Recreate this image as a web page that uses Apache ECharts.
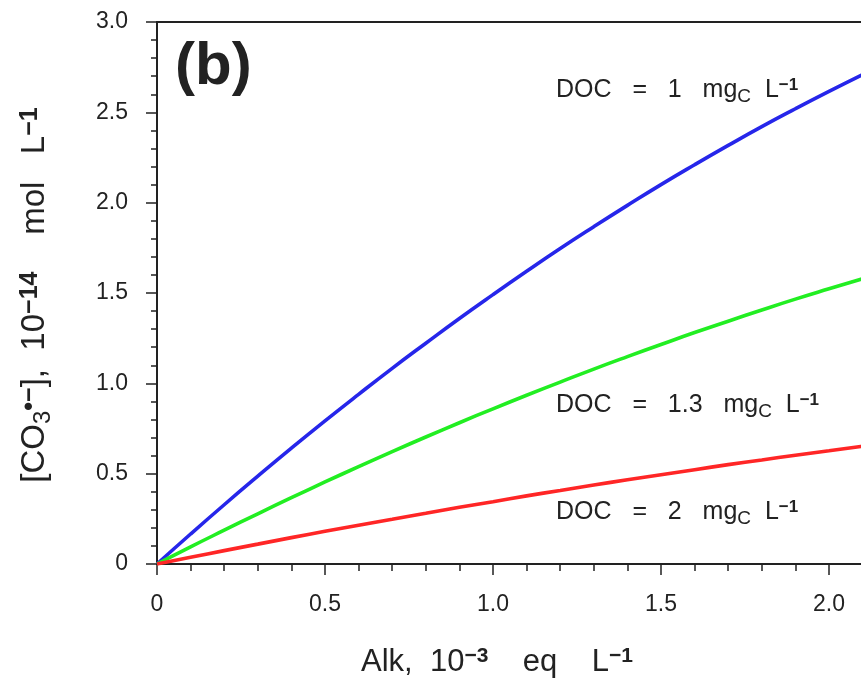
<!DOCTYPE html>
<html><head><meta charset="utf-8">
<script src="https://cdn.jsdelivr.net/npm/echarts@6/dist/echarts.min.js"></script>
<style>html,body{margin:0;padding:0;background:#fff;overflow:hidden;width:861px;height:679px}#c{width:1000px;height:679px}</style>
</head><body><div id="c"></div>
<script>
// Alkalinity, 10^-3 eq L^-1
const alk   = [0, 0.1, 0.2, 0.3, 0.4, 0.5, 0.6, 0.7, 0.8, 0.9, 1.0, 1.1, 1.2, 1.3, 1.4, 1.5, 1.6, 1.7, 1.8, 1.9, 2.0, 2.1];
// [CO3•−], 10^-14 mol L^-1
const doc1  = [0, 0.166, 0.328, 0.486, 0.641, 0.792, 0.939, 1.083, 1.222, 1.359, 1.491, 1.620, 1.746, 1.867, 1.985, 2.100, 2.210, 2.317, 2.421, 2.520, 2.616, 2.709];
const doc13 = [0, 0.095, 0.187, 0.278, 0.367, 0.454, 0.539, 0.622, 0.703, 0.782, 0.859, 0.934, 1.007, 1.079, 1.148, 1.215, 1.281, 1.344, 1.406, 1.466, 1.523, 1.579];
const doc2  = [0, 0.037, 0.074, 0.110, 0.146, 0.181, 0.215, 0.248, 0.281, 0.314, 0.345, 0.377, 0.407, 0.437, 0.466, 0.494, 0.522, 0.550, 0.576, 0.602, 0.627, 0.652];
const xTickLabels = ['0', '0.5', '1.0', '1.5', '2.0'];
const yTickLabels = ['0', '0.5', '1.0', '1.5', '2.0', '2.5', '3.0'];
const seriesNames = ['DOC = 1', 'DOC = 1.3', 'DOC = 2'];
const seriesColors = ['#2626ea', '#22ee22', '#ff2626'];

const FONT = 'Liberation Sans, Arial, sans-serif';
const INK = '#222';
const pairs = ys => alk.map((x, i) => [x, ys[i]]);
const xFmt = v => { const i = Math.round(v / 0.5); return (Math.abs(v - i * 0.5) < 1e-9 && xTickLabels[i] !== undefined) ? xTickLabels[i] : ''; };
const yFmt = v => { const i = Math.round(v / 0.5); return yTickLabels[i] !== undefined ? yTickLabels[i] : ''; };

function rich(size, supSize, subSize, lh) {
  return {
    m: { fontFamily: FONT, fontSize: size, lineHeight: lh, verticalAlign: 'middle', fill: INK },
    p: { fontFamily: FONT, fontSize: supSize, lineHeight: lh, verticalAlign: 'top', padding: [Math.round(lh * 0.12), 0, 0, 0], fill: INK, fontWeight: 'bold' },
    s: { fontFamily: FONT, fontSize: subSize, lineHeight: lh, verticalAlign: 'bottom', padding: [0, 0, Math.round(lh * 0.04), 0], fill: INK }
  };
}

function label(x, y, text, size, supSize, subSize, lh, align, rot) {
  return {
    type: 'text', x: x, y: y, z: 10, rotation: rot || 0,
    style: { text: text, rich: rich(size, supSize, subSize, lh), fill: INK, fontFamily: FONT, fontSize: size, align: align, verticalAlign: 'middle' }
  };
}

const chart = echarts.init(document.getElementById('c'), null, { renderer: 'canvas' });
chart.setOption({
  animation: false,
  backgroundColor: '#fff',
  grid: { left: 157, top: 22, right: 0, bottom: 115, containLabel: false },
  xAxis: [{
    type: 'value', min: 0, max: 2.5, interval: 0.5,
    axisLine: { show: true, onZero: false, lineStyle: { color: INK, width: 2 } },
    axisTick: { show: true, inside: false, length: 11, lineStyle: { color: INK, width: 1.5 } },
    minorTick: { show: true, splitNumber: 5, length: 7, lineStyle: { color: INK, width: 1.5 } },
    axisLabel: { formatter: xFmt, fontFamily: FONT, fontSize: 23, color: INK, margin: 29 },
    splitLine: { show: false }
  }, {
    type: 'value', position: 'top', min: 0, max: 2.5, interval: 0.5,
    axisLine: { show: true, onZero: false, lineStyle: { color: INK, width: 2 } },
    axisTick: { show: false }, axisLabel: { show: false }, splitLine: { show: false }
  }],
  yAxis: {
    type: 'value', min: 0, max: 3, interval: 0.5,
    axisLine: { show: true, onZero: false, lineStyle: { color: INK, width: 2 } },
    axisTick: { show: true, inside: false, length: 11, lineStyle: { color: INK, width: 1.5 } },
    minorTick: { show: true, splitNumber: 5, length: 6, lineStyle: { color: INK, width: 1.5 } },
    axisLabel: { formatter: yFmt, fontFamily: FONT, fontSize: 23, color: INK, margin: 29 },
    splitLine: { show: false }
  },
  series: [doc1, doc13, doc2].map((d, i) => ({
    name: seriesNames[i], type: 'line', data: pairs(d), smooth: true, showSymbol: false,
    lineStyle: { color: seriesColors[i], width: 3.6 }, itemStyle: { color: seriesColors[i] }, z: 3 + i
  })),
  graphic: [
    { type: 'text', x: 175, y: 67, z: 10,
      style: { text: '(b)', fontFamily: FONT, fontWeight: 'bold', fontSize: 60, fill: INK, align: 'left', verticalAlign: 'middle' } },
    label(556, 90, '{m|DOC   =   1   mg}{s|C}{m|  L}{p|\u22121}', 25, 17, 19, 34, 'left'),
    label(556, 405, '{m|DOC   =   1.3   mg}{s|C}{m|  L}{p|\u22121}', 25, 17, 19, 34, 'left'),
    label(556, 512, '{m|DOC   =   2   mg}{s|C}{m|  L}{p|\u22121}', 25, 17, 19, 34, 'left'),
    label(497, 662, '{m|Alk,  10}{p|\u22123}{m|    eq    L}{p|\u22121}', 31, 21, 21, 42, 'center'),
    label(35, 295, '{m|[CO}{s|3}{p|\u2022\u2212}{m|],  10}{p|\u221214}{m|    mol   L}{p|\u22121}', 33, 25, 24, 44, 'center', Math.PI / 2)
  ]
});
</script>
</body></html>
